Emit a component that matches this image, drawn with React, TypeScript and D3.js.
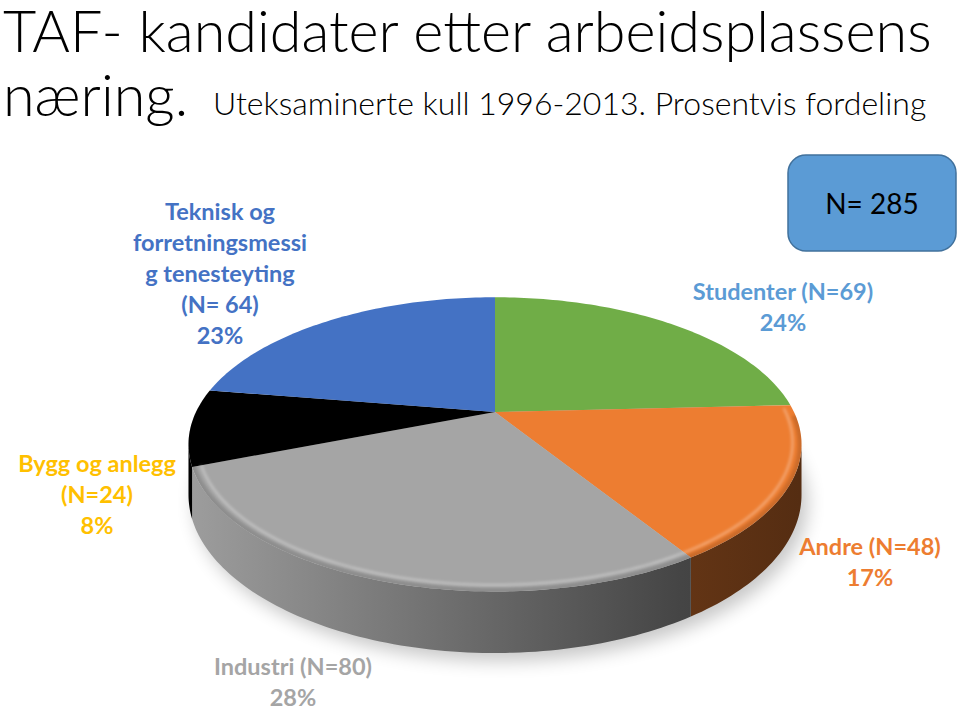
import React, { useMemo } from 'react';
import * as d3 from 'd3';

// data (clockwise from 12 o'clock)
const categories = ['Studenter', 'Andre', 'Industri', 'Bygg og anlegg', 'Teknisk og forretningsmessig tenesteyting'];
const counts = [69, 48, 80, 24, 64];
const percents = [24, 17, 28, 8, 23];
const sliceColors = ['#70AD47', '#ED7D31', '#A5A5A5', '#000000', '#4472C4'];
const labelColors = ['#5B9BD5', '#ED7D31', '#A5A5A5', '#FFC000', '#4472C4'];
const labelLines = [
  ['Studenter (N=69)', '24%'],
  ['Andre (N=48)', '17%'],
  ['Industri (N=80)', '28%'],
  ['Bygg og anlegg', '(N=24)', '8%'],
  ['Teknisk og', 'forretningsmessi', 'g tenesteyting', '(N= 64)', '23%'],
];
const total = 285;

// layout
const W = 960, H = 710;
const cx = 495, cy = 412, Rx = 299, Ry = 140, K = 0.22, DEPTH = 48;
const labelPos = [[783, 300], [870, 555], [293, 675], [97, 472], [220, 220]];
const lineGap = 31;

// perspective projection of a point on the disk (angle clockwise from top)
const proj = (a: number, r = 1, drop = 0): [number, number] => {
  const u = Math.sin(a) * r, v = -Math.cos(a) * r;
  const w = 1 - K * v;
  return [cx + (Rx * u) / w, cy + (Ry * v) / w + drop / w];
};

const sample = (a0: number, a1: number, r = 1, drop = 0) => {
  const n = Math.max(2, Math.ceil(Math.abs(a1 - a0) / 0.02));
  return d3.range(n + 1).map(i => proj(a0 + ((a1 - a0) * i) / n, r, drop));
};

const line = d3.line();
const aRight = Math.acos(-K);
const aLeft = 2 * Math.PI - aRight;

export default function App() {
  const arcs = useMemo(() => d3.pie<number>().sort(null).value(d => d)(counts), []);
  const light = d3.scaleLinear<number>().domain([190, 440, 680, 800]).range([0.95, 0.68, 0.42, 0.36]);

  const shadow = line(sample(0, 2 * Math.PI, 1, DEPTH).map(([x, y]) => [x + 6, y + 8]) as [number, number][]) + 'Z';

  return (
    <svg width={W} height={H} style={{ position: 'absolute', left: 0, top: 0, background: '#fff' }}
      fontFamily="Lato, 'Open Sans', sans-serif">
      <defs>
        <filter id="blur8" x="-20%" y="-20%" width="140%" height="140%"><feGaussianBlur stdDeviation="9" /></filter>
        <filter id="blur2" x="-5%" y="-5%" width="110%" height="110%"><feGaussianBlur stdDeviation="1.8" /></filter>
        <clipPath id="topclip">
          <path d={line(sample(0, 2 * Math.PI)) + 'Z'} />
        </clipPath>
        {arcs.map((a, i) => {
          const base = d3.rgb(sliceColors[i]);
          return (
            <linearGradient key={i} id={`side${i}`} gradientUnits="userSpaceOnUse" x1={190} x2={800} y1={0} y2={0}>
              {light.domain().map(x => {
                const f = light(x);
                const c = d3.rgb(base.r * f, base.g * f, base.b * f);
                return <stop key={x} offset={(x - 190) / 610} stopColor={c.formatHex()} />;
              })}
            </linearGradient>
          );
        })}
      </defs>

      {/* title */}
      <text x={3} y={52} fontSize={57.5} fontWeight={300} fill="#000">TAF- kandidater etter arbeidsplassens</text>
      <text x={3} y={116} fontSize={57.5} fontWeight={300} fill="#000">næring.</text>
      <text x={213} y={115} fontSize={32} fontWeight={300} fill="#000">Uteksaminerte kull 1996-2013. Prosentvis fordeling</text>

      {/* shadow */}
      <path d={shadow} fill="#000" opacity={0.22} filter="url(#blur8)" />

      {/* sides */}
      {arcs.map((a, i) => {
        const s = Math.max(a.startAngle, aRight), e = Math.min(a.endAngle, aLeft);
        if (e <= s) return null;
        const pts = [...sample(s, e), ...sample(e, s, 1, DEPTH)];
        return <path key={i} d={line(pts) + 'Z'} fill={`url(#side${i})`} />;
      })}

      {/* top faces */}
      {arcs.map((a, i) => {
        const pts = [proj(0, 0), ...sample(a.startAngle, a.endAngle)];
        return <path key={i} d={line(pts) + 'Z'} fill={sliceColors[i]} />;
      })}

      {/* bevel along the front rim */}
      <g clipPath="url(#topclip)">
        <path d={line(sample(aRight - 0.2, aLeft + 0.2, 1.0)) ?? ''} fill="none" stroke="#000" strokeOpacity={0.14}
          strokeWidth={8} filter="url(#blur2)" />
        {arcs.map((a, i) => {
          const s = Math.max(a.startAngle, aRight - 0.25), e = Math.min(a.endAngle, aLeft + 0.25);
          if (e <= s || i === 3) return null;
          return <path key={i} d={line(sample(s, e, 0.972)) ?? ''} fill="none" stroke="#fff" strokeOpacity={0.4}
            strokeWidth={2} filter="url(#blur2)" />;
        })}
      </g>

      {/* labels */}
      {labelLines.map((lines, i) => (
        <text key={i} x={labelPos[i][0]} y={labelPos[i][1]} textAnchor="middle" fontSize={23.5} fontWeight={700}
          fill={labelColors[i]} data-cat={categories[i]} data-pct={percents[i]}>
          {lines.map((t, j) => <tspan key={j} x={labelPos[i][0]} dy={j === 0 ? 0 : lineGap}>{t}</tspan>)}
        </text>
      ))}

      {/* N box */}
      <rect x={788} y={155} width={168} height={96} rx={18} fill="#5B9BD5" stroke="#41719C" strokeWidth={1.5} />
      <text x={872} y={214} textAnchor="middle" fontSize={28} fill="#000">N= {total}</text>
    </svg>
  );
}
